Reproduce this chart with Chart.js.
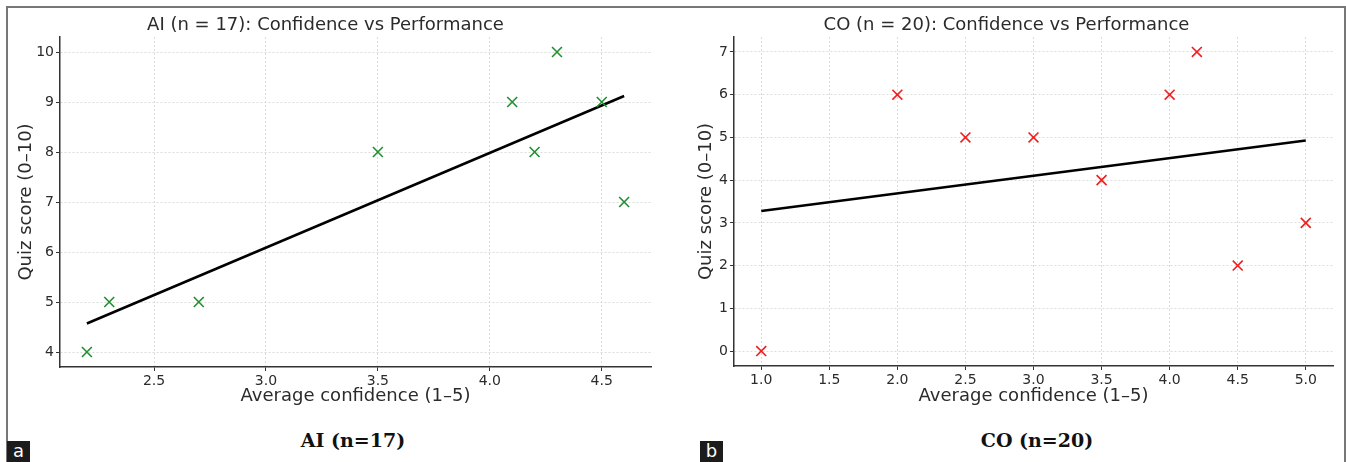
<!DOCTYPE html>
<html>
<head>
<meta charset="utf-8">
<script src="https://cdn.jsdelivr.net/npm/chart.js@4.4.1/dist/chart.umd.min.js"></script>
<style>
  body { margin: 0; background: #fff; width: 1346px; height: 462px; overflow: hidden; position: relative; font-family: "DejaVu Sans", sans-serif; }
  .frame { position: absolute; left: 6px; top: 6px; width: 1336px; height: 460px; border-top: 2px solid #777; border-left: 2px solid #777; border-right: 2px solid #777; }
  canvas { position: absolute; top: 0; }
  .caption { position: absolute; top: 429px; width: 300px; text-align: center; font-family: "DejaVu Serif", "Liberation Serif", serif; font-weight: bold; font-size: 19px; color: #111; }
  .tag { position: absolute; top: 441px; width: 23px; height: 21px; background: #1c1c1c; color: #fff; font-size: 18px; line-height: 20px; text-align: center; }
</style>
</head>
<body>
<div class="frame"></div>
<canvas id="aiChart" width="680" height="410" style="left:0px"></canvas>
<canvas id="coChart" width="666" height="410" style="left:680px"></canvas>
<div class="caption" style="left:203px">AI (n=17)</div>
<div class="caption" style="left:887px">CO (n=20)</div>
<div class="tag" style="left:7px">a</div>
<div class="tag" style="left:700px">b</div>

<script>
// AI group
const aiConfidence = [2.2, 2.3, 2.7, 3.5, 4.1, 4.2, 4.3, 4.5, 4.6];
const aiScore = [4, 5, 5, 8, 9, 8, 10, 9, 7];
const aiFitX = [2.2, 4.6];
const aiFitY = [4.57, 9.12];
const aiXTicks = [2.5, 3.0, 3.5, 4.0, 4.5];
const aiYTicks = [4, 5, 6, 7, 8, 9, 10];

// CO group
const coConfidence = [1.0, 2.0, 2.5, 3.0, 3.5, 4.0, 4.2, 4.5, 5.0];
const coScore = [0, 6, 5, 5, 4, 6, 7, 2, 3];
const coFitX = [1.0, 5.0];
const coFitY = [3.28, 4.93];
const coXTicks = [1.0, 1.5, 2.0, 2.5, 3.0, 3.5, 4.0, 4.5, 5.0];
const coYTicks = [0, 1, 2, 3, 4, 5, 6, 7];

function toPoints(xs, ys) {
    var pts = [];
    for (let i = 0; i < xs.length; i++) {
        pts.push({ x: xs[i], y: ys[i] });
    }
    return pts;
}

function DrawPanel(canvasId, cfg) {
    var textColor = '#2b2b2b';
    new Chart(document.getElementById(canvasId), {
        type: 'scatter',
        data: {
            datasets: [
                {
                    data: toPoints(cfg.xs, cfg.ys),
                    pointStyle: 'crossRot',
                    pointRadius: 7,
                    pointHoverRadius: 7,
                    borderColor: cfg.color,
                    backgroundColor: cfg.color,
                    pointBorderWidth: 1.6,
                    showLine: false
                },
                {
                    data: toPoints(cfg.fitX, cfg.fitY),
                    showLine: true,
                    pointRadius: 0,
                    borderColor: '#000',
                    borderWidth: 2.5
                }
            ]
        },
        options: {
            responsive: false,
            animation: false,
            devicePixelRatio: 1,
            layout: { padding: { left: 0, right: cfg.padRight, top: 0, bottom: 0 } },
            plugins: {
                legend: { display: false },
                tooltip: { enabled: false },
                title: {
                    display: true,
                    text: cfg.title,
                    color: textColor,
                    font: { family: 'DejaVu Sans', size: 18, weight: 'normal' },
                    padding: { top: 15, bottom: 0.4 }
                }
            },
            scales: {
                x: {
                    type: 'linear',
                    min: cfg.xMin,
                    max: cfg.xMax,
                    afterBuildTicks: function (scale) {
                        scale.ticks = cfg.xTicks.map(function (v) { return { value: v }; });
                    },
                    afterFit: function (scale) { scale.height = cfg.xHeight; },
                    ticks: {
                        color: textColor,
                        font: { family: 'DejaVu Sans', size: 14 },
                        padding: 2,
                        maxRotation: 0,
                        callback: function (v) { return v.toFixed(1); }
                    },
                    grid: {
                        color: '#dcdcdc',
                        lineWidth: 1,
                        tickLength: 4,
                        tickColor: '#333',
                        tickBorderDash: []
                    },
                    border: { display: true, color: '#333', width: 1.5, dash: [2, 2] },
                    title: {
                        display: true,
                        text: 'Average confidence (1–5)',
                        color: textColor,
                        font: { family: 'DejaVu Sans', size: 18 },
                        padding: { top: 0, bottom: 3 }
                    }
                },
                y: {
                    type: 'linear',
                    min: cfg.yMin,
                    max: cfg.yMax,
                    afterBuildTicks: function (scale) {
                        scale.ticks = cfg.yTicks.map(function (v) { return { value: v }; });
                    },
                    afterFit: function (scale) { scale.width = cfg.yWidth; },
                    ticks: {
                        color: textColor,
                        font: { family: 'DejaVu Sans', size: 14 },
                        padding: 2
                    },
                    grid: {
                        color: '#dcdcdc',
                        lineWidth: 1,
                        tickLength: 4,
                        tickColor: '#333',
                        tickBorderDash: []
                    },
                    border: { display: true, color: '#333', width: 1.5, dash: [2, 2] },
                    title: {
                        display: true,
                        text: 'Quiz score (0–10)',
                        color: textColor,
                        font: { family: 'DejaVu Sans', size: 18 },
                        padding: { top: 16, bottom: 0 }
                    }
                }
            }
        }
    });
}

DrawPanel('aiChart', {
    title: 'AI (n = 17): Confidence vs Performance',
    xs: aiConfidence, ys: aiScore, fitX: aiFitX, fitY: aiFitY,
    xTicks: aiXTicks, yTicks: aiYTicks,
    xMin: 2.08, xMax: 4.72, yMin: 3.7, yMax: 10.3,
    color: '#1f8f2f', padRight: 29, yWidth: 60, xHeight: 43
});

DrawPanel('coChart', {
    title: 'CO (n = 20): Confidence vs Performance',
    xs: coConfidence, ys: coScore, fitX: coFitX, fitY: coFitY,
    xTicks: coXTicks, yTicks: coYTicks,
    xMin: 0.8, xMax: 5.2, yMin: -0.35, yMax: 7.35,
    color: '#f01e1e', padRight: 13, yWidth: 54, xHeight: 44
});
</script>
</body>
</html>
